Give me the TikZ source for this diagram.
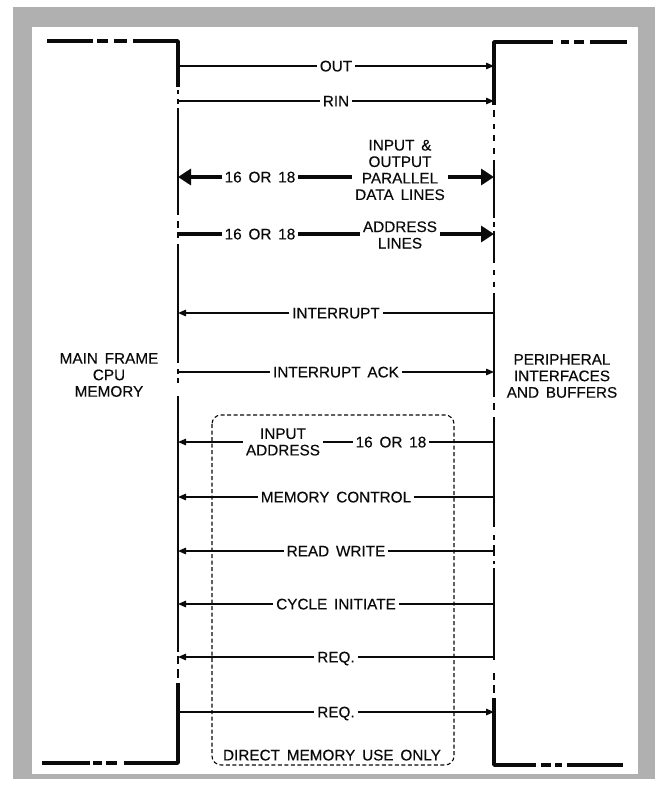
\documentclass[tikz,border=0pt]{standalone}
\usepackage{fontspec}
\setmainfont[WordSpace=1.6, FakeBold=0.3]{Liberation Sans}
\usetikzlibrary{positioning, arrows.meta, calc}
\definecolor{framegray}{RGB}{176, 176, 176}
\definecolor{ink}{RGB}{10, 10, 10}

\begin{document}
\begin{tikzpicture}[
  x=1pt, y=-1pt,
  every node/.style={font=\fontsize{15.3}{16.5}\selectfont, text=ink},
  bus/.style={ink, line width=2.8pt},
  edge/.style={ink, line width=3.5pt, line join=round},
  sig/.style={ink, line width=1.4pt},
  wide/.style={ink, line width=4.5pt},
  tor/.style={-{Triangle[length=8pt, width=6.5pt]}},
  tol/.style={{Triangle[length=8pt, width=6.5pt]}-},
  wtor/.style={-{Triangle[length=13pt, width=16pt]}},
  wboth/.style={{Triangle[length=13pt, width=16pt]}-{Triangle[length=13pt, width=16pt]}},
  lbl/.style={fill=white, inner xsep=3pt, inner ysep=1pt, text height=10.8pt, text depth=0pt},
  lbls/.style={fill=white, inner xsep=3pt, inner ysep=1pt, align=center},
  side/.style={align=center},
  dmabox/.style={ink, line width=1.1pt, dash pattern=on 4pt off 2.5pt, rounded corners=9pt},
]

\def\xl{178}
\def\xr{494}

\useasboundingbox (0,0) rectangle (661,787);

% Frame
\fill[framegray] (13,7) rectangle (655,779);
\fill[white] (32,27) rectangle (638,774);

% Left bus
\draw[edge] (133,41) -- (\xl,41) -- (\xl,87);
\draw[edge] (124,763) -- (\xl,763) -- (\xl,683);
\foreach \a/\b in {47/93, 97/108, 114/127}
  \draw[edge] (\a,41) -- (\b,41);
\foreach \a/\b in {42/90, 93/102, 106/117}
  \draw[edge] (\a,763) -- (\b,763);
\foreach \a/\b in {90/94, 99/104, 108/215, 221/228, 232/238, 244/363,
                   369/374, 378/383, 396/652, 656/664, 669/678}
  \draw[bus] (\xl,\a) -- (\xl,\b);

% Right bus
\draw[edge] (553,42) -- (\xr,42) -- (\xr,105);
\draw[edge] (536,765) -- (\xr,765) -- (\xr,698);
\foreach \a/\b in {561/569, 574/584, 590/627}
  \draw[edge] (\a,42) -- (\b,42);
\foreach \a/\b in {541/551, 555/562, 567/623}
  \draw[edge] (\a,765) -- (\b,765);
\foreach \a/\b in {110/117, 124/129, 135/141, 148/154, 160/218, 222/227,
                   231/263, 270/275, 282/287, 293/397, 403/410, 417/527,
                   535/540, 545/556, 561/564, 568/660, 673/680, 685/693}
  \draw[bus] (\xr,\a) -- (\xr,\b);

% Direct memory box
\draw[dmabox] (212,415) rectangle (454,765);
\node[lbl] (dmatxt) at (332,755) {DIRECT MEMORY USE ONLY};

% Side labels
\node[side] (cpu) at (109,375) {MAIN FRAME\\CPU\\MEMORY};
\node[side] (peri) at (562,376) {PERIPHERAL\\INTERFACES\\AND BUFFERS};

% Single signals
\foreach \nm/\y/\sty/\txt in {
  out/66/tor/OUT,
  rin/101/tor/RIN,
  int/313/tol/INTERRUPT,
  ack/372/tor/INTERRUPT ACK,
  memc/497/tol/MEMORY CONTROL,
  rdwr/551/tol/READ WRITE,
  cyc/604/tol/CYCLE INITIATE,
  reqa/657/tol/REQ.,
  reqb/712/tor/REQ.%
}{
  \coordinate (L\nm) at (\xl,\y);
  \coordinate (R\nm) at (\xr,\y);
  \draw[sig, \sty] (L\nm) -- (R\nm) node[lbl, midway] (t\nm) {\txt};
}

% Data and address lines
\coordinate (Ldat) at (\xl,177);
\coordinate (Rdat) at (\xr,177);
\draw[wide, wboth] (Ldat) -- (Rdat);
\node[lbl] (datnum) at (260,177) {16 OR 18};
\node[lbls] (dattxt) at (400,170) {INPUT \&\\OUTPUT\\PARALLEL\\DATA LINES};

\coordinate (Ladr) at (\xl,234);
\coordinate (Radr) at (\xr,234);
\draw[wide, wtor] (Ladr) -- (Radr);
\node[lbl] (adrnum) at (260,234) {16 OR 18};
\node[lbls] (adrtxt) at (400,235) {ADDRESS\\LINES};

% Input address
\coordinate (Liad) at (\xl,442);
\coordinate (Riad) at (\xr,442);
\draw[sig, tol] (Liad) -- (Riad);
\node[lbls] (iadtxt) at (283,442) {INPUT\\ADDRESS};
\node[lbl] (iadnum) at (391,442) {16 OR 18};

\end{tikzpicture}
\end{document}
